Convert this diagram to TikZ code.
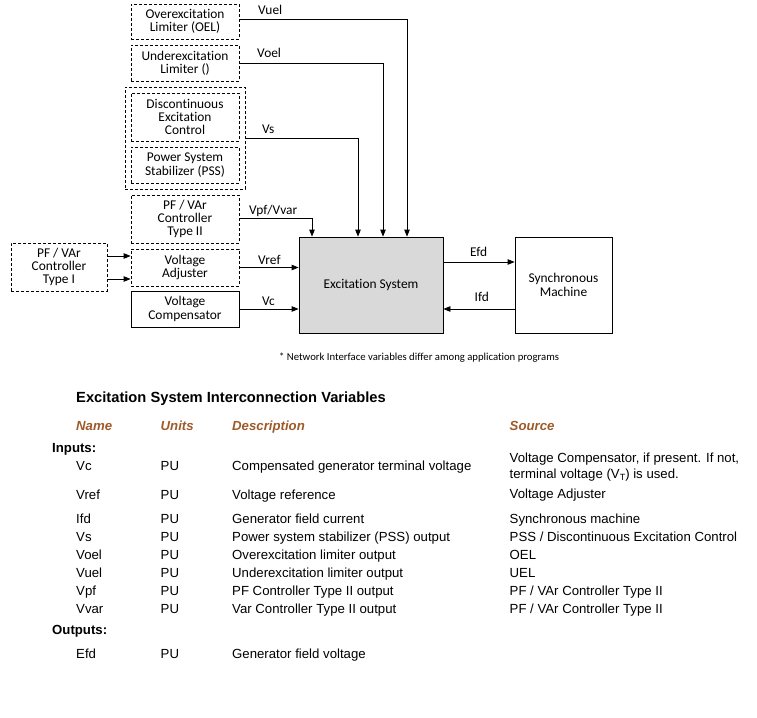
\documentclass[tikz,border=0pt]{standalone}
\usepackage{fontspec}
\setmainfont{Liberation Sans}
\newfontfamily\calfont[Ligatures={NoCommon}]{Carlito}
\usetikzlibrary{arrows.meta}
\definecolor{exgray}{RGB}{217,217,217}
\definecolor{hdrbrown}{RGB}{158,90,40}
\begin{document}
\begin{tikzpicture}[x=1pt,y=-1pt,
  blk/.style={draw, line width=0.8pt, align=center, inner sep=0pt,
    font=\calfont\fontsize{13.4}{13.4}\selectfont},
  dbox/.style={blk, dash pattern=on 3pt off 2pt},
  arr/.style={line width=0.8pt, -{Triangle[length=7pt,width=5.5pt]}},
  lbl/.style={font=\calfont\fontsize{13.4}{13.4}\selectfont, inner sep=0pt, anchor=base west},
  tx/.style={font=\fontsize{13.2}{15}\selectfont, inner sep=0pt, anchor=base west},
  hd/.style={tx, font=\fontsize{13.2}{15}\selectfont\bfseries\itshape, text=hdrbrown},
  bhd/.style={tx, font=\fontsize{13.2}{15}\selectfont\bfseries}]
\path[use as bounding box] (0,0) rectangle (757,717);

% ---- diagram blocks ----
\node[dbox, minimum width=108pt, minimum height=35pt] (oel) at (185,21.5) {Overexcitation\\Limiter (OEL)};
\node[dbox, minimum width=108pt, minimum height=36pt] (uel) at (185,63) {Underexcitation\\Limiter ()};
\node[dbox, minimum width=120pt, minimum height=102pt] (grp) at (185,138) {};
\node[dbox, minimum width=108pt, minimum height=48pt] (dec) at (185,117) {Discontinuous\\Excitation\\Control};
\node[dbox, minimum width=108pt, minimum height=36pt] (pss) at (185,165) {Power System\\Stabilizer (PSS)};
\node[dbox, minimum width=108pt, minimum height=48pt] (pf2) at (185,219) {PF / VAr\\Controller\\Type II};
\node[dbox, minimum width=96pt, minimum height=48pt] (pf1) at (59,267) {PF / VAr\\Controller\\Type I};
\node[dbox, minimum width=108pt, minimum height=37pt] (va) at (185,267.5) {Voltage\\Adjuster};
\node[blk, minimum width=108pt, minimum height=36pt] (vc) at (185,309) {Voltage\\Compensator};
\node[blk, fill=exgray, minimum width=144pt, minimum height=96pt] (ex) at (371,285) {Excitation System};
\node[blk, minimum width=97pt, minimum height=96pt] (sm) at (563.5,285) {Synchronous\\Machine};

% ---- connectors ----
\draw[arr] ([yshift=2.5pt]oel.east) -| ([xshift=36pt]ex.north);
\draw[arr] (uel.east) -| ([xshift=12pt]ex.north);
\draw[arr] (grp.east) -| ([xshift=-13pt]ex.north);
\draw[arr] ([yshift=1pt]pf2.east) -| ([xshift=-59pt]ex.north);
\draw[arr] (va.east) -- (va.east -| ex.west);
\draw[arr] (vc.east) -- (vc.east -| ex.west);
\draw[arr] ([yshift=11pt]pf1.east) -- ([yshift=11pt]pf1.east -| va.west);
\draw[arr] ([yshift=-12pt]pf1.east) -- ([yshift=-12pt]pf1.east -| va.west);
\draw[arr] ([yshift=23pt]ex.east) -- ([yshift=23pt]ex.east -| sm.west);
\draw[arr] ([yshift=-24pt]sm.west) -- ([yshift=-24pt]sm.west -| ex.east);

% ---- connector labels ----
\node[lbl] (lvuel) at (258,15) {Vuel};
\node[lbl] (lvoel) at (257,57) {Voel};
\node[lbl] (lvs) at (262,133.5) {Vs};
\node[lbl] (lvpf) at (249,214) {Vpf/Vvar};
\node[lbl] (lvref) at (258,264) {Vref};
\node[lbl] (lvc) at (262,305) {Vc};
\node[lbl] (lefd) at (470,256.5) {Efd};
\node[lbl] (lifd) at (474.5,301) {Ifd};

\node[inner sep=0pt, anchor=base west, font=\calfont\fontsize{10.7}{12}\selectfont] (note) at (279,360) {* Network Interface variables differ among application programs};

% ---- table ----
\node[tx, font=\fontsize{14.7}{16}\selectfont\bfseries] (title) at (76,402) {Excitation System Interconnection Variables};
\node[hd] (hname) at (76,430) {Name};
\node[hd] (hunits) at (160.5,430) {Units};
\node[hd] (hdesc) at (232,430) {Description};
\node[hd] (hsrc) at (509.5,430) {Source};

\node[bhd] (inputs) at (52,452) {Inputs:};

\node[tx] (n1) at (76,470) {Vc};
\node[tx] (u1) at (160.5,470) {PU};
\node[tx] (d1) at (232,470) {Compensated generator terminal voltage};
\node[tx] (s1a) at (509.5,462.5) {Voltage Compensator, if present. If not,};
\node[tx] (s1b) at (509.5,478) {terminal voltage (V\raisebox{-2pt}{\fontsize{9}{9}\selectfont T}) is used.};

\node[tx] (n2) at (76,499) {Vref};
\node[tx] (u2) at (160.5,499) {PU};
\node[tx] (d2) at (232,499) {Voltage reference};
\node[tx] (s2) at (509.5,498.5) {Voltage Adjuster};

\node[tx] (n3) at (76,523) {Ifd};
\node[tx] (u3) at (160.5,523) {PU};
\node[tx] (d3) at (232,523) {Generator field current};
\node[tx] (s3) at (509.5,523) {Synchronous machine};

\node[tx] (n4) at (76,541) {Vs};
\node[tx] (u4) at (160.5,541) {PU};
\node[tx] (d4) at (232,541) {Power system stabilizer (PSS) output};
\node[tx] (s4) at (509.5,541) {PSS / Discontinuous Excitation Control};

\node[tx] (n5) at (76,559) {Voel};
\node[tx] (u5) at (160.5,559) {PU};
\node[tx] (d5) at (232,559) {Overexcitation limiter output};
\node[tx] (s5) at (509.5,559) {OEL};

\node[tx] (n6) at (76,577) {Vuel};
\node[tx] (u6) at (160.5,577) {PU};
\node[tx] (d6) at (232,577) {Underexcitation limiter output};
\node[tx] (s6) at (509.5,577) {UEL};

\node[tx] (n7) at (76,595) {Vpf};
\node[tx] (u7) at (160.5,595) {PU};
\node[tx] (d7) at (232,595) {PF Controller Type II output};
\node[tx] (s7) at (509.5,595) {PF / VAr Controller Type II};

\node[tx] (n8) at (76,613) {Vvar};
\node[tx] (u8) at (160.5,613) {PU};
\node[tx] (d8) at (232,613) {Var Controller Type II output};
\node[tx] (s8) at (509.5,613) {PF / VAr Controller Type II};

\node[bhd] (outputs) at (52,634) {Outputs:};

\node[tx] (n9) at (76,658) {Efd};
\node[tx] (u9) at (160.5,658) {PU};
\node[tx] (d9) at (232,658) {Generator field voltage};
\end{tikzpicture}
\end{document}
